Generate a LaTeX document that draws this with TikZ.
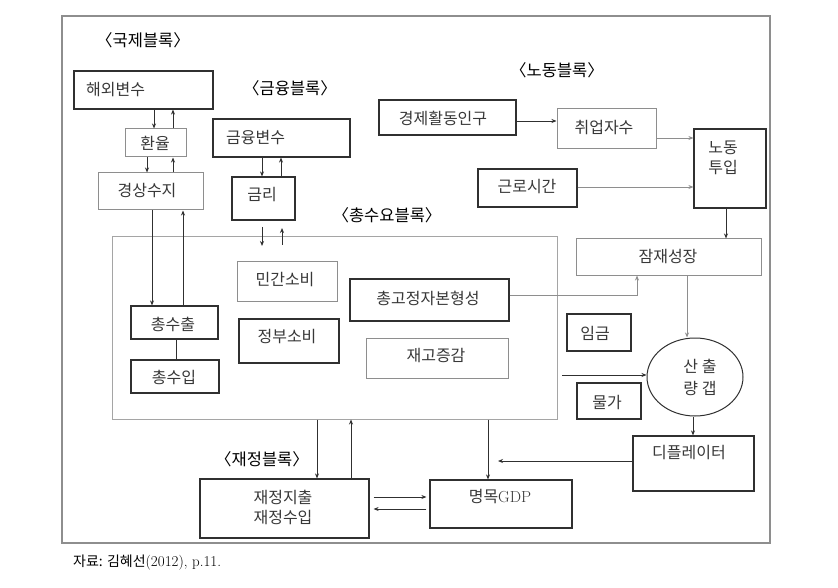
\documentclass[tikz,border=0pt]{standalone}
\usepackage{fontspec}
\newfontfamily\kr{Noto Sans CJK KR}
\usetikzlibrary{arrows.meta,shapes.geometric,calc}
\definecolor{dk}{HTML}{303030}
\definecolor{lg}{HTML}{8E8E8E}
\definecolor{tx}{HTML}{383838}
\newcommand\mkbox[6]{\node[#1, minimum width={#5-#3}, minimum height={#6-#4}] (#2) at ({(#3+#5)/2},{(#4+#6)/2}) {};}
\begin{document}
\begin{tikzpicture}[x=1pt,y=-1pt,
  bx/.style={draw=dk, line width=1.2pt, inner sep=0pt, rectangle},
  lbx/.style={bx, draw=lg, line width=1pt},
  t/.style={font=\kr\fontsize{16}{18}\selectfont, text=tx, inner sep=0pt},
  hd/.style={font=\kr\fontsize{16.5}{18}\selectfont, text=black, inner sep=0pt},
  ar/.style={draw=dk, line width=0.9pt, -{Stealth[length=5pt,width=4pt]}},
  ln/.style={draw=dk, line width=0.9pt},
  gl/.style={draw=lg, line width=0.9pt, -{Stealth[length=5pt,width=4pt]}}]
\useasboundingbox (0,0) rectangle (838,588);
\fill[white] (0,0) rectangle (838,588);
% frame
\mkbox{lbx, line width=1.3pt}{frame}{62}{16}{770}{543}
% boxes
\mkbox{bx}{hw}{74}{71}{213}{109}
\mkbox{lbx}{fx}{125}{129}{186}{157}
\mkbox{lbx}{ca}{98}{173}{203}{210}
\mkbox{bx}{fin}{213}{119}{350}{157}
\mkbox{bx}{ir}{232}{177}{295}{220}
\mkbox{bx}{eap}{379}{100}{516}{135}
\mkbox{lbx}{emp}{557}{109}{656}{149}
\mkbox{bx}{lab}{694}{129}{766}{208}
\mkbox{bx}{hrs}{478}{169}{577}{207}
\mkbox{lbx, draw=lg!80}{agg}{112}{237}{557}{419}
\mkbox{lbx}{pc}{237}{261}{337}{301}
\mkbox{bx}{gfcf}{350}{279}{509}{321}
\mkbox{bx}{ex}{131}{306}{218}{339}
\mkbox{bx}{im}{131}{360}{219}{393}
\mkbox{bx}{gc}{239}{319}{339}{363}
\mkbox{lbx}{inv}{366}{338}{508}{378}
\mkbox{lbx}{pg}{576}{239}{761}{275}
\mkbox{bx}{wage}{567}{314}{631}{351}
\mkbox{bx}{price}{577}{383}{641}{419}
\node[draw=dk, line width=1pt, ellipse, minimum width=96, minimum height=78, inner sep=0pt] (gap) at (695,377) {};
\mkbox{bx}{defl}{633}{436}{754}{491}
\mkbox{bx}{gdp}{430}{480}{572}{528}
\mkbox{bx}{fis}{200}{479}{369}{538}
% headings
\node[hd] (hInt) at (143,40) {〈국제블록〉};
\node[hd] (hFin) at (290,88) {〈금융블록〉};
\node[hd] (hLab) at (557,70) {〈노동블록〉};
\node[hd] (hAgg) at (387,215) {〈총수요블록〉};
\node[hd] (hFis) at (262,459) {〈재정블록〉};
% texts
\node[t, anchor=west] (hwT) at (86,90) {해외변수};
\node[t] (fxT) at (155,143) {환율};
\node[t] (caT) at (147,191) {경상수지};
\node[t, anchor=west] (finT) at (226,138) {금융변수};
\node[t] (irT) at (262,195) {금리};
\node[t] (eapT) at (443,118) {경제활동인구};
\node[t] (empT) at (604,128) {취업자수};
\node[t] (labT1) at (723,148) {노동};
\node[t] (labT2) at (723,168) {투입};
\node[t] (hrsT) at (527,187) {근로시간};
\node[t] (pcT) at (285,280) {민간소비};
\node[t] (gfcfT) at (428,298) {총고정자본형성};
\node[t] (exT) at (173,324) {총수출};
\node[t] (imT) at (174,377) {총수입};
\node[t] (gcT) at (287,337) {정부소비};
\node[t] (invT) at (436,356) {재고증감};
\node[t] (pgT) at (668,257) {잠재성장};
\node[t] (wageT) at (595,333) {임금};
\node[t] (priceT) at (607,402) {물가};
\node[t] (gapT1) at (700,366) {산 출};
\node[t] (gapT2) at (700,388) {량 갭};
\node[t] (deflT) at (689,453) {디플레이터};
\node[t] (gdpT) at (500,497) {명목{\rmfamily GDP}};
\node[t] (fisT1) at (283,497) {재정지출};
\node[t] (fisT2) at (283,518) {재정수입};
\node[font=\kr\fontsize{14}{16}\selectfont, text=black, inner sep=0pt, anchor=west] (cap) at (73,563) {자료: 김혜선{\rmfamily\fontsize{15}{16}\selectfont(2012), p.11.}};
% international block arrows
\draw[ar] (hw.south -| 154,0) -- (fx.north -| 154,0);
\draw[ar] (fx.north -| 173,0) -- (hw.south -| 173,0);
\draw[ar] (fx.south -| 147,0) -- (ca.north -| 147,0);
\draw[ar] (ca.north -| 173,0) -- (fx.south -| 173,0);
\draw[ar] (ca.south -| 152,0) -- (ex.north -| 152,0);
\draw[ar] (ex.north -| 183,0) -- (ca.south -| 183,0);
\draw[ln] (ex.south -| 176,0) -- (im.north -| 176,0);
% financial block arrows
\draw[ar] (fin.south -| 262,0) -- (ir.north -| 262,0);
\draw[ar] (ir.north -| 281,0) -- (fin.south -| 281,0);
\coordinate (irD1) at (262,227); \coordinate (irD2) at (262,246);
\coordinate (irU1) at (282,245); \coordinate (irU2) at (282,228);
\draw[ar] (irD1) -- (irD2);
\draw[ar] (irU1) -- (irU2);
% labour block arrows
\draw[ar] (eap.east |- 0,121) -- (emp.west |- 0,121);
\draw[gl] (emp.east |- 0,138) -- (lab.west |- 0,138);
\draw[gl] (hrs.east |- 0,187) -- (lab.west |- 0,187);
\draw[ar] (lab.south -| 726,0) -- (pg.north -| 726,0);
% growth / gap
\draw[gl] (gfcf.east |- 0,295) -| (pg.south -| 637,0);
\draw[gl] (pg.south -| 687,0) -- (gap.north -| 687,0);
\coordinate (aggOut) at (562,375);
\draw[ar] (aggOut) -- (gap.west |- 0,375);
\draw[ar] (gap.south -| 693,0) -- (defl.north -| 693,0);
\coordinate (deflEnd) at (498,461);
\draw[ar] (defl.west |- 0,461) -- (deflEnd);
% fiscal / GDP
\draw[ar] (agg.south -| 488,0) -- (gdp.north -| 488,0);
\draw[ar] (agg.south -| 317,0) -- (fis.north -| 317,0);
\draw[ar] (fis.north -| 351,0) -- (agg.south -| 351,0);
\draw[ar, shorten <=4pt, shorten >=3pt] (fis.east |- 0,497) -- (gdp.west |- 0,497);
\draw[ar, shorten <=3pt, shorten >=4pt] (gdp.west |- 0,509) -- (fis.east |- 0,509);
\end{tikzpicture}
\end{document}
